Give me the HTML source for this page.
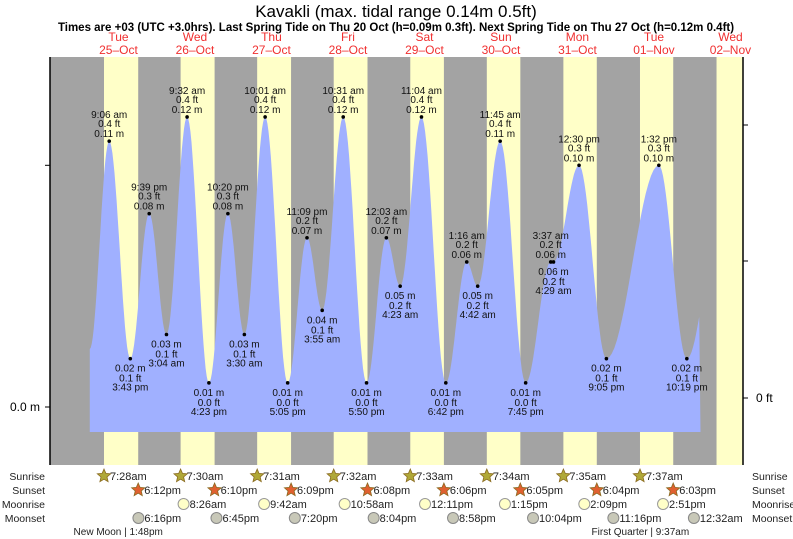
<!DOCTYPE html>
<html><head><meta charset="utf-8"><style>
body{margin:0;background:#fff;}
svg{display:block;font-family:"Liberation Sans",sans-serif;}
</style></head><body>
<svg id="chart" width="793" height="539" viewBox="0 0 793 539" xmlns="http://www.w3.org/2000/svg">
<text x="396" y="17" text-anchor="middle" font-size="17">Kavakli (max. tidal range 0.14m 0.5ft)</text>
<text x="396" y="31" text-anchor="middle" font-size="11.5" font-weight="bold">Times are +03 (UTC +3.0hrs). Last Spring Tide on Thu 20 Oct (h=0.09m 0.3ft). Next Spring Tide on Thu 27 Oct (h=0.12m 0.4ft)</text>
<g id="bg"></g><g id="fill"></g><g id="marks"></g><g id="axes"></g><g id="bottom"></g>
</svg>
<script>
// ---- data ----
const tideTimes = ["25 9:06am","25 3:43pm","25 9:39pm","26 3:04am","26 9:32am","26 4:23pm","26 10:20pm","27 3:30am","27 10:01am","27 5:05pm","27 11:09pm","28 3:55am","28 10:31am","28 5:50pm","29 12:03am","29 4:23am","29 11:04am","29 6:42pm","30 1:16am","30 4:42am","30 11:45am","30 7:45pm","31 3:37am","31 4:29am","31 12:30pm","31 9:05pm","32 1:32pm","32 10:19pm"];
const tideHeights = [0.11,0.02,0.08,0.03,0.12,0.01,0.08,0.03,0.12,0.01,0.07,0.04,0.12,0.01,0.07,0.05,0.12,0.01,0.06,0.05,0.11,0.01,0.06,0.06,0.10,0.02,0.10,0.02];
const tideFeet = ["0.4","0.1","0.3","0.1","0.4","0.0","0.3","0.1","0.4","0.0","0.2","0.1","0.4","0.0","0.2","0.2","0.4","0.0","0.2","0.2","0.4","0.0","0.2","0.2","0.3","0.1","0.3","0.1"];
const tideIsHigh = [1,0,1,0,1,0,1,0,1,0,1,0,1,0,1,0,1,0,1,0,1,0,1,0,1,0,1,0];
const dayNames = ["Tue","Wed","Thu","Fri","Sat","Sun","Mon","Tue","Wed"];
const dayDates = ["25–Oct","26–Oct","27–Oct","28–Oct","29–Oct","30–Oct","31–Oct","01–Nov","02–Nov"];
const sunrise = ["7:28am","7:30am","7:31am","7:32am","7:33am","7:34am","7:35am","7:37am","7:38am"];
const sunset = ["6:12pm","6:10pm","6:09pm","6:08pm","6:06pm","6:05pm","6:04pm","6:03pm"];
const moonrise = ["26 8:26am","27 9:42am","28 10:58am","29 12:11pm","30 1:15pm","31 2:09pm","32 2:51pm"];
const moonset = ["25 6:16pm","26 6:45pm","27 7:20pm","28 8:04pm","29 8:58pm","30 10:04pm","31 11:16pm","33 12:32am"];
const phases = [["25 1:48pm","New Moon | 1:48pm"],["32 9:37am","First Quarter | 9:37am"]];
const startVal = 0.024, startHour = 3.0, endHour = 194.6, endNextHigh = 0.07, endNextHour = 200;

// ---- scales ----
const X0=80.2, PXH=3.1875, Y0=407, PXM=2417;
const L=50,R=743,T=57,B=465;
function x(h){return X0+h*PXH;}
function y(v){return Y0-v*PXM;}
function clk(s){const m=s.match(/(\d+):(\d+)(am|pm)/);let h=+m[1]%12;if(m[3]=="pm")h+=12;return h+ +m[2]/60;}
function hr(s){const p=s.split(" ");return (+p[0]-25)*24+clk(p[1]);}
const NS="http://www.w3.org/2000/svg";
function mk(tag,attrs,parent,txt){const e=document.createElementNS(NS,tag);for(const k in attrs)e.setAttribute(k,attrs[k]);if(txt!==undefined)e.textContent=txt;parent.appendChild(e);return e;}
const bg=document.getElementById('bg'),fill=document.getElementById('fill'),marks=document.getElementById('marks'),axes=document.getElementById('axes'),bottom=document.getElementById('bottom'),svg=document.getElementById('chart');

// background
let r=mk('rect',{x:L,y:T,width:R-L,height:B-T,fill:'#a3a3a3'},bg);


for(let d=0;d<dayNames.length;d++){
  const s=x(d*24+clk(sunrise[d])); const e=d<sunset.length?x(d*24+clk(sunset[d])):R;
  r=mk('rect',{x:s,y:T,width:Math.min(e,R)-s,height:B-T,fill:'#ffffc8'},bg);
  
  
  const cx=x(d*24+12);
  let t=mk('text',{x:cx,y:41,'text-anchor':'middle','font-size':12,fill:'#f03030'},svg,dayNames[d]);
  
  
  t=mk('text',{x:cx,y:54,'text-anchor':'middle','font-size':12,fill:'#f03030'},svg,dayDates[d]);
  
  
}
// tide curve
const hs=tideTimes.map(hr);
const pts=[[startHour,startVal]].concat(hs.map((h,i)=>[h,tideHeights[i]])).concat([[endNextHour,endNextHigh]]);
let d='M'+x(startHour)+','+(B-33);
for(let i=0;i<pts.length-1;i++){
  const [h1,v1]=pts[i],[h2,v2]=pts[i+1];
  for(let k=0;k<=20;k++){const h=h1+(h2-h1)*k/20; if(h>endHour)break;
    const v=v1+(v2-v1)*(1-Math.cos(Math.PI*k/20))/2; d+=' L'+x(h).toFixed(1)+','+y(v).toFixed(1);}
}
d+=' L'+x(endHour)+','+(B-33)+' Z';
let p=mk('path',{d:d,fill:'#a0b0ff'},fill);


// markers + labels
hs.forEach((h,i)=>{
  const cx=x(h),cy=y(tideHeights[i]);
  const c=mk('circle',{cx:cx,cy:cy,r:1.8,fill:'#000'},marks);
  
  
  const tm=tideTimes[i].split(" ")[1].replace(/(am|pm)/," $1");
  const lines=[tideHeights[i].toFixed(2)+" m",tideFeet[i]+" ft",tm];
  const hiOff=[-4,-14,-23], loOff=[13,23,32];
  lines.forEach((s,j)=>{
    const ty=tideIsHigh[i]?cy+hiOff[j]:cy+loOff[j];
    const t=mk('text',{x:cx,y:ty,'text-anchor':'middle','font-size':10,fill:'#111'},marks,s);
    
    
  });
});
// axes
let a=mk('line',{x1:L,y1:T,x2:L,y2:B,stroke:'#000','stroke-width':1.5},axes);

a=mk('line',{x1:R,y1:T,x2:R,y2:B,stroke:'#000','stroke-width':1.5},axes);

[0,0.1].forEach(v=>{a=mk('line',{x1:L-5,y1:y(v),x2:L,y2:y(v),stroke:'#000'},axes);
  });
let t=mk('text',{x:L-10,y:y(0)+4,'text-anchor':'end','font-size':12},axes,'0.0 m');

[398,261,125].forEach(yy=>{a=mk('line',{x1:R,y1:yy,x2:R+5,y2:yy,stroke:'#000'},axes);
  });
t=mk('text',{x:R+13,y:402,'font-size':12},axes,'0 ft');

// bottom rows
const rows=[["Sunrise",480],["Sunset",494],["Moonrise",508],["Moonset",522]];
rows.forEach(([n,yy])=>{
  let t=mk('text',{x:45,y:yy,'text-anchor':'end','font-size':10.5,fill:'#222'},bottom,n);
  
  t=mk('text',{x:752,y:yy,'font-size':10.5,fill:'#222'},bottom,n);
  
});
function star(cx,cy,col){let s='';for(let k=0;k<10;k++){const rr=k%2?3.2:7,an=-Math.PI/2+k*Math.PI/5;s+=(cx+rr*Math.cos(an)).toFixed(1)+','+(cy+rr*Math.sin(an)).toFixed(1)+' ';}
  const e=mk('polygon',{points:s,fill:col,stroke:'#8a6a20','stroke-width':0.8},bottom);return e;}
function lbl(cx,cy,s){const t=mk('text',{x:cx+6,y:cy+4,'font-size':11,fill:'#222'},bottom,s);}
sunrise.slice(0,8).forEach((s,i)=>{const cx=x(i*24+clk(s));const e=star(cx,476,'#b0a838');lbl(cx,476,s);});
sunset.forEach((s,i)=>{const cx=x(i*24+clk(s));const e=star(cx,490,'#e06030');lbl(cx,490,s);});
moonrise.forEach(s=>{const cx=x(hr(s));const e=mk('circle',{cx:cx,cy:504,r:5.5,fill:'#ffffc8',stroke:'#999'},bottom);lbl(cx,504,s.split(" ")[1]);});
moonset.forEach(s=>{const cx=x(hr(s));const e=mk('circle',{cx:cx,cy:518,r:5.5,fill:'#c8c8b8',stroke:'#888'},bottom);lbl(cx,518,s.split(" ")[1]);});
phases.forEach(([s,n])=>{const t=mk('text',{x:x(hr(s))-6,y:535,'text-anchor':'middle','font-size':10,fill:'#222'},bottom,n);});
</script>
</body></html>
